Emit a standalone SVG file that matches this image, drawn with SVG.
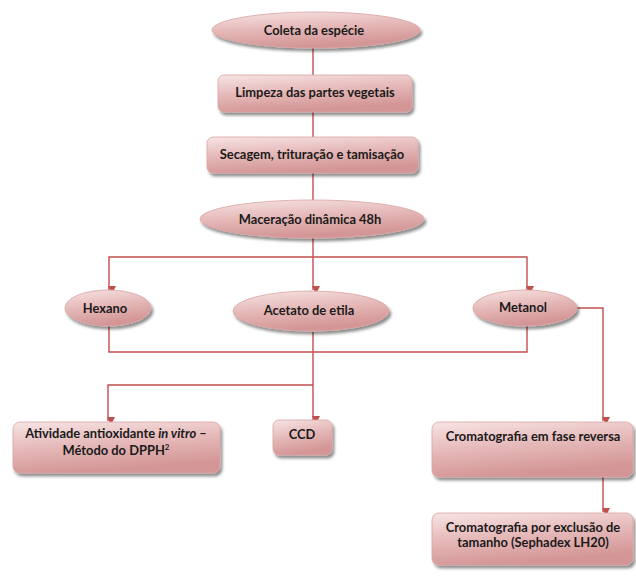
<svg xmlns="http://www.w3.org/2000/svg" width="636" height="576" viewBox="0 0 636 576">
<defs>
<linearGradient id="g" x1="0" y1="0" x2="0.3" y2="1">
<stop offset="0" stop-color="#f7e4e4"/>
<stop offset="0.5" stop-color="#e6b9b9"/>
<stop offset="1" stop-color="#d39595"/>
</linearGradient>
<filter id="sh" x="-10%" y="-20%" width="125%" height="150%">
<feGaussianBlur in="SourceAlpha" stdDeviation="1.5"/>
<feOffset dx="2" dy="2.5" result="b"/>
<feComponentTransfer><feFuncA type="linear" slope="0.45"/></feComponentTransfer>
<feMerge><feMergeNode/><feMergeNode in="SourceGraphic"/></feMerge>
</filter>
<marker id="ar" markerWidth="8" markerHeight="8" refX="4" refY="7" orient="auto" markerUnits="userSpaceOnUse" viewBox="0 0 8 8">
<path d="M0,0 L8,0 L4,8 Z" fill="#c0504d" transform="rotate(-90 4 4)"/>
</marker>
</defs>
<style>
.n{fill:url(#g);stroke:#d9a3a3;stroke-width:0.8;filter:url(#sh)}
.t{font-family:Lato,"Liberation Sans",sans-serif;font-weight:bold;font-size:12.9px;fill:#1a1a1a;text-anchor:middle}
.c{fill:none;stroke:#c0504d;stroke-width:1.4}
</style>
<rect width="636" height="576" fill="#fff"/>
<g id="connectors">
<path class="c" d="M313,48 V75"/>
<path class="c" d="M313,112 V137"/>
<path class="c" d="M313,173 V200"/>
<path class="c" d="M313,238 V290" marker-end="url(#ar)"/>
<path class="c" d="M313,257 H109 V290" marker-end="url(#ar)"/>
<path class="c" d="M313,257 H527 V290" marker-end="url(#ar)"/>
<path class="c" d="M109,326 V352 H527 V326"/>
<path class="c" d="M313,332 V420" marker-end="url(#ar)"/>
<path class="c" d="M313,385 H108 V421" marker-end="url(#ar)"/>
<path class="c" d="M576,308 H603 V421" marker-end="url(#ar)"/>
<path class="c" d="M603,477 V512" marker-end="url(#ar)"/>
</g>
<g id="coleta"><ellipse class="n" cx="316" cy="30" rx="104" ry="18"/><text class="t" x="314" y="34.5">Coleta da espécie</text></g>
<g id="limpeza"><rect class="n" x="218" y="75" width="194" height="37" rx="6"/><text class="t" x="315" y="97">Limpeza das partes vegetais</text></g>
<g id="secagem"><rect class="n" x="207" y="137" width="211" height="36" rx="6"/><text class="t" x="312" y="159">Secagem, trituração e tamisação</text></g>
<g id="maceracao"><ellipse class="n" cx="312" cy="219" rx="112" ry="19"/><text class="t" x="310" y="223.5">Maceração dinâmica 48h</text></g>
<g id="hexano"><ellipse class="n" cx="108" cy="308" rx="43" ry="18"/><text class="t" x="105" y="312.5">Hexano</text></g>
<g id="acetato"><ellipse class="n" cx="311" cy="311" rx="78" ry="20"/><text class="t" x="309" y="315">Acetato de etila</text></g>
<g id="metanol"><ellipse class="n" cx="525" cy="308" rx="52" ry="18"/><text class="t" x="523" y="312">Metanol</text></g>
<g id="atividade"><rect class="n" x="13" y="422" width="207" height="51" rx="7"/><text class="t" x="116" y="438">Atividade antioxidante <tspan font-style="italic">in vitro</tspan> –</text><text class="t" x="116" y="455">Método do DPPH<tspan font-size="8" dy="-5">2</tspan></text></g>
<g id="ccd"><rect class="n" x="273" y="420" width="59" height="35" rx="6"/><text class="t" x="302" y="439">CCD</text></g>
<g id="fase"><rect class="n" x="432" y="422" width="201" height="55" rx="7"/><text class="t" x="533" y="441">Cromatografia em fase reversa</text></g>
<g id="exclusao"><rect class="n" x="432" y="513" width="201" height="52" rx="7"/><text class="t" x="533" y="532">Cromatografia por exclusão de</text><text class="t" x="533" y="547">tamanho (Sephadex LH20)</text></g>
</svg>
